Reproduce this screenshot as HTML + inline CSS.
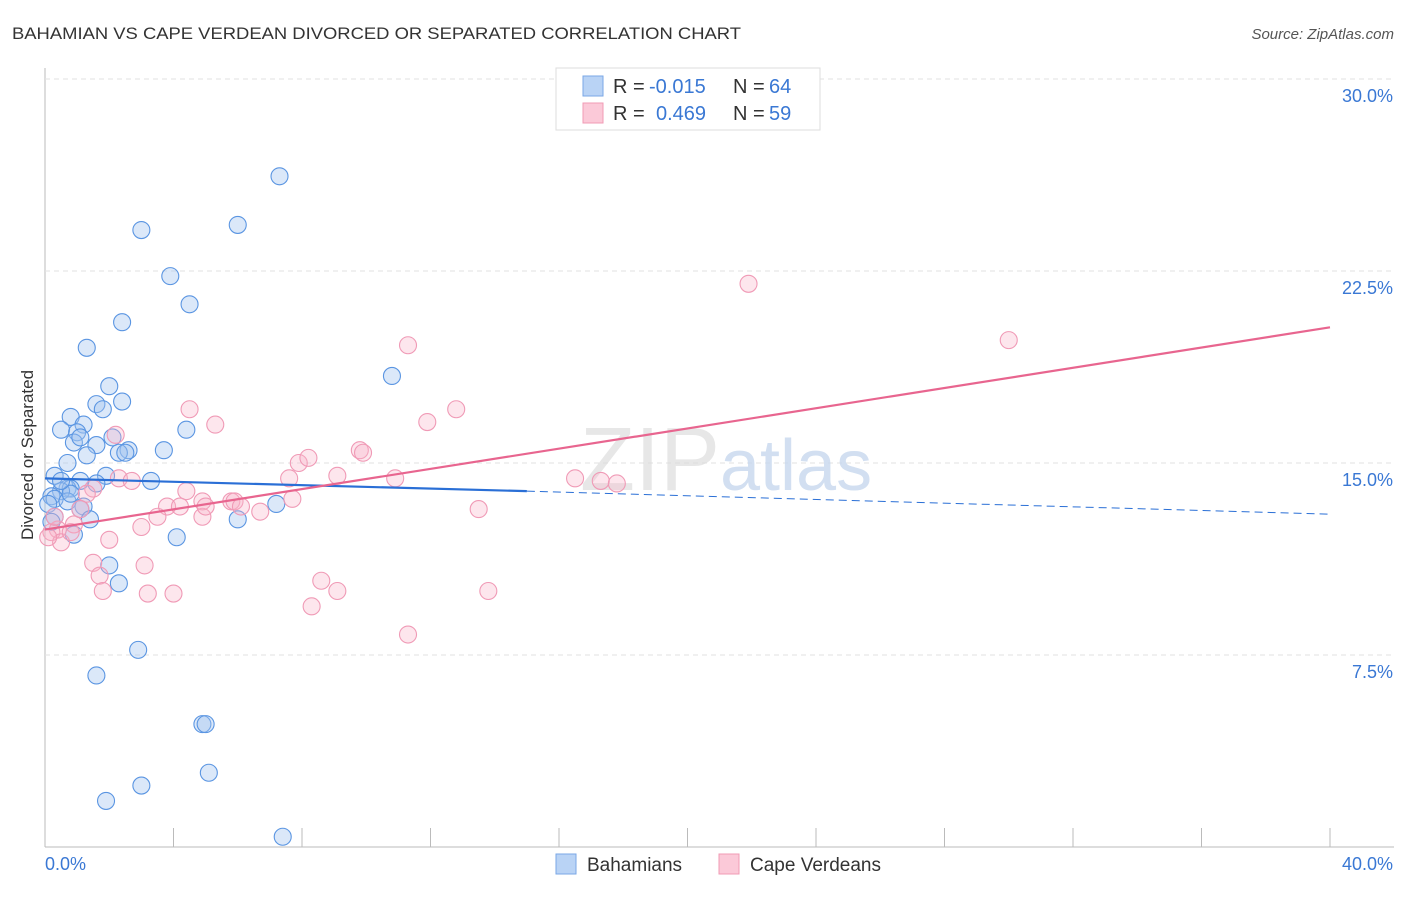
<!DOCTYPE html>
<html><head><meta charset="utf-8"><style>
body{margin:0;background:#fff;font-family:"Liberation Sans",sans-serif}
svg text{font-family:"Liberation Sans",sans-serif}
</style></head><body>
<svg id="c" width="1406" height="892" xmlns="http://www.w3.org/2000/svg">
<text x="12" y="39" font-size="17" fill="#333" textLength="729" lengthAdjust="spacingAndGlyphs">BAHAMIAN VS CAPE VERDEAN DIVORCED OR SEPARATED CORRELATION CHART</text>
<text x="1394" y="39" font-size="15" fill="#555" font-style="italic" text-anchor="end">Source: ZipAtlas.com</text>
<text x="33" y="455" font-size="17" fill="#333" text-anchor="middle" transform="rotate(-90 33 455)">Divorced or Separated</text>
<g id="grid"></g>
<text x="720" y="490" font-size="90" fill="#ddd" font-family="Liberation Serif" text-anchor="end" opacity="0.7">ZIP</text>
<text x="720" y="490" font-size="72" fill="#c7d8ee" opacity="0.8">atlas</text>
<g id="pts"></g>
<g id="lines"></g>
<g>
<rect x="556" y="68" width="264" height="62" fill="#fff" stroke="#ddd"/>
<rect x="583" y="76" width="20" height="20" fill="#b9d3f5" stroke="#7aa7e6"/>
<rect x="583" y="103" width="20" height="20" fill="#fbc9d8" stroke="#f09bb5"/>
<text x="613" y="93" font-size="20" fill="#333">R =</text>
<text x="649" y="93" font-size="20" fill="#3a78d4">-0.015</text>
<text x="733" y="93" font-size="20" fill="#333">N =</text>
<text x="769" y="93" font-size="20" fill="#3a78d4">64</text>
<text x="613" y="120" font-size="20" fill="#333">R =</text>
<text x="656" y="120" font-size="20" fill="#3a78d4">0.469</text>
<text x="733" y="120" font-size="20" fill="#333">N =</text>
<text x="769" y="120" font-size="20" fill="#3a78d4">59</text>
</g>
<g>
<rect x="556" y="854" width="20" height="20" fill="#b9d3f5" stroke="#7aa7e6"/>
<text x="587" y="871" font-size="19" fill="#333">Bahamians</text>
<rect x="719" y="854" width="20" height="20" fill="#fbc9d8" stroke="#f09bb5"/>
<text x="750" y="871" font-size="19" fill="#333">Cape Verdeans</text>
</g>
</svg>
<script>
const yTicks=[7.5,15,22.5,30];
const yTickLabels=["7.5%","15.0%","22.5%","30.0%"];
const xTickLabels=["0.0%","40.0%"];
const bahX=[7.3,3.0,6.0,3.9,4.5,2.4,1.3,10.8,2.0,1.6,2.4,1.8,0.8,0.5,1.2,1.0,2.1,0.9,1.6,4.4,1.1,2.6,2.3,2.5,3.7,1.3,0.7,0.3,1.9,3.3,1.1,1.6,0.7,0.8,0.5,0.2,0.3,0.1,0.7,1.2,1.1,1.4,6.0,7.2,0.9,4.1,2.0,2.3,2.9,1.6,4.9,5.0,5.1,3.0,1.9,7.4,0.3,0.2,0.8,0.5];
const bahY=[26.2,24.1,24.3,22.3,21.2,20.5,19.5,18.4,18.0,17.3,17.4,17.1,16.8,16.3,16.5,16.2,16.0,15.8,15.7,16.3,16.0,15.5,15.4,15.4,15.5,15.3,15.0,14.5,14.5,14.3,14.3,14.2,14.0,14.0,13.9,13.7,13.6,13.4,13.5,13.3,13.2,12.8,12.8,13.4,12.2,12.1,11.0,10.3,7.7,6.7,4.8,4.8,2.9,2.4,1.8,0.4,12.9,12.7,13.8,14.3];
const cvX=[21.9,30.0,11.3,4.5,12.8,5.3,11.9,2.2,7.9,8.2,9.8,9.9,9.1,10.9,16.5,17.3,17.8,7.6,2.3,2.7,1.5,1.3,4.4,4.9,5.8,5.9,7.7,3.8,4.2,6.1,6.7,4.9,3.5,5.0,13.5,1.1,0.9,0.4,0.2,0.5,0.1,3.0,2.0,1.5,3.1,1.7,8.6,1.8,3.2,4.0,9.1,13.8,8.3,11.3,0.3,0.8];
const cvY=[22.0,19.8,19.6,17.1,17.1,16.5,16.6,16.1,15.0,15.2,15.5,15.4,14.5,14.4,14.4,14.3,14.2,14.4,14.4,14.3,14.0,13.8,13.9,13.5,13.5,13.5,13.6,13.3,13.3,13.3,13.1,12.9,12.9,13.3,13.2,13.2,12.6,12.4,12.3,11.9,12.1,12.5,12.0,11.1,11.0,10.6,10.4,10.0,9.9,9.9,10.0,10.0,9.4,8.3,12.9,12.3];
const bahLine=[[0,14.4],[15,13.9],[40,13.0]];
const cvLine=[[0,12.4],[40,20.3]];
const NS="http://www.w3.org/2000/svg";
const X=v=>45+v/40*1285, Y=v=>847-v/30*768;
function mk(tag,attrs,parent){const e=document.createElementNS(NS,tag);for(const k in attrs)e.setAttribute(k,attrs[k]);parent.appendChild(e);return e;}
const grid=document.getElementById('grid');
const ax=mk('line',{x1:45,y1:68,x2:45,y2:847,stroke:'#bbb'},grid);


const bx=mk('line',{x1:45,y1:847,x2:1394,y2:847,stroke:'#bbb'},grid);


for(let i=0;i<=10;i++){const t=mk('line',{x1:45+i*128.5,y1:828,x2:45+i*128.5,y2:847,stroke:'#bbb'},grid);

}
yTicks.forEach((v,i)=>{const g=mk('line',{x1:45,y1:Y(v),x2:1394,y2:Y(v),stroke:'#e2e2e2','stroke-dasharray':'5,4'},grid);


const t=mk('text',{x:1393,y:Y(v)+23,'font-size':18,fill:'#3a78d4','text-anchor':'end'},grid);t.textContent=yTickLabels[i];

});
const xl=[[45,'start'],[1393,'end']];
xTickLabels.forEach((s,i)=>{const t=mk('text',{x:xl[i][0],y:870,'font-size':18,fill:'#3a78d4','text-anchor':xl[i][1]},grid);t.textContent=s;

});
const pts=document.getElementById('pts');
bahX.forEach((x,i)=>{const c=mk('circle',{cx:X(x),cy:Y(bahY[i]),r:8.5,fill:'rgba(160,195,240,0.38)',stroke:'#5a95e2','stroke-width':1.1},pts);

});
cvX.forEach((x,i)=>{const c=mk('circle',{cx:X(x),cy:Y(cvY[i]),r:8.5,fill:'rgba(248,180,200,0.33)',stroke:'#f09ab6','stroke-width':1.1},pts);

});
const L=document.getElementById('lines');
const b1=mk('line',{x1:X(bahLine[0][0]),y1:Y(bahLine[0][1]),x2:X(bahLine[1][0]),y2:Y(bahLine[1][1]),stroke:'#2a6fd6','stroke-width':2.2},L);


const b2=mk('line',{x1:X(bahLine[1][0]),y1:Y(bahLine[1][1]),x2:X(bahLine[2][0]),y2:Y(bahLine[2][1]),stroke:'#2a6fd6','stroke-width':1,'stroke-dasharray':'8,5'},L);


const p1=mk('line',{x1:X(cvLine[0][0]),y1:Y(cvLine[0][1]),x2:X(cvLine[1][0]),y2:Y(cvLine[1][1]),stroke:'#e8658f','stroke-width':2.2},L);


</script>
</body></html>
